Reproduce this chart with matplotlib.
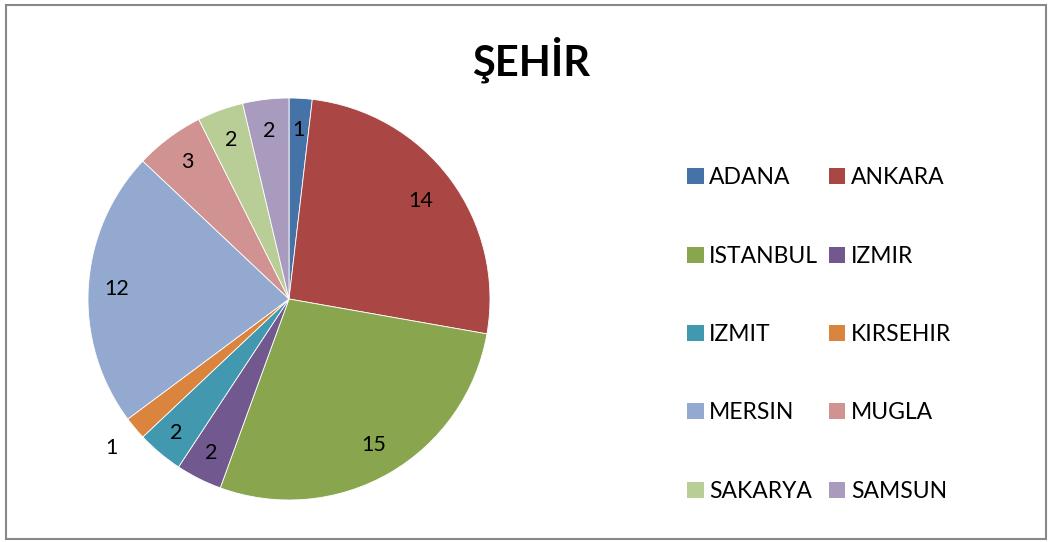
import numpy as np
import matplotlib
matplotlib.use("Agg")
import matplotlib.pyplot as plt
from matplotlib.patches import Rectangle, Patch

cities = ["ADANA", "ANKARA", "ISTANBUL", "IZMIR", "IZMIT",
          "KIRSEHIR", "MERSIN", "MUGLA", "SAKARYA", "SAMSUN"]
counts = [1, 14, 15, 2, 2, 1, 12, 3, 2, 2]
colors = ["#4573A7", "#AA4643", "#89A54E", "#71588F", "#4198AF",
          "#DB843D", "#93A9CF", "#D19392", "#B9CD96", "#A99BBD"]
label_dist = [0.84, 0.82, 0.84, 0.86, 0.87, 1.15, 0.86, 0.85, 0.84, 0.84]

plt.rcParams["font.family"] = ["Lato", "DejaVu Sans"]

W, H = 1049, 542
fig = plt.figure(figsize=(W / 100, H / 100), dpi=100)
fig.patch.set_facecolor("white")

cx, cy, r = 289, 299, 201
ax = fig.add_axes([(cx - r) / W, (H - cy - r) / H, 2 * r / W, 2 * r / H])
wedges, _ = ax.pie(counts, colors=colors, startangle=90, counterclock=False,
                   radius=1, wedgeprops=dict(edgecolor="white", linewidth=0.6))
ax.set_xlim(-1, 1)
ax.set_ylim(-1, 1)
ax.set_aspect("equal")
ax.axis("off")

for w, v, d in zip(wedges, counts, label_dist):
    ang = np.deg2rad((w.theta1 + w.theta2) / 2)
    ax.text(d * np.cos(ang), d * np.sin(ang), str(v), ha="center", va="center",
            fontsize=15.5, color="black")

fig.text(531 / W, 1 - 60 / H, "ŞEHİR", ha="center", va="center",
         fontsize=30, fontweight="bold")

order = [0, 2, 4, 6, 8, 1, 3, 5, 7, 9]
handles = [Patch(facecolor=colors[i], edgecolor="none", label=cities[i]) for i in order]
fig.legend(handles=handles, ncol=2, loc="upper left",
           bbox_to_anchor=(676 / W, 1 - 156 / H), frameon=False,
           fontsize=16.5, handlelength=0.7, handleheight=0.7, handletextpad=0.25,
           labelspacing=2.5, columnspacing=0.48, borderpad=0)

fig.patches.append(Rectangle((6 / W, 3 / H), 1040 / W, 534 / H, transform=fig.transFigure,
                             fill=False, edgecolor="#888888", linewidth=1.5))

fig.savefig("out.png", dpi=100)
